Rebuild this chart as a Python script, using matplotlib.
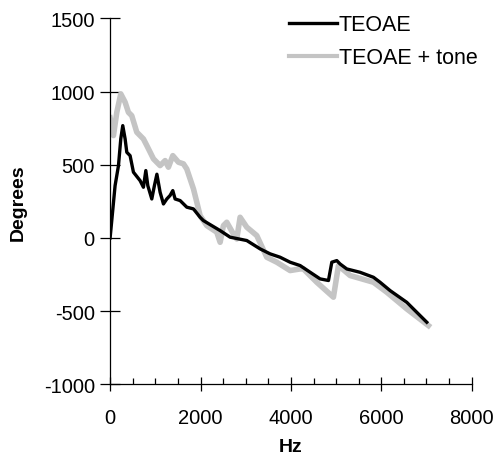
import numpy as np
import matplotlib.pyplot as plt
from matplotlib.ticker import MultipleLocator

plt.rcParams['font.family'] = ['Liberation Sans', 'DejaVu Sans']
plt.rcParams['axes.unicode_minus'] = False

# TEOAE (black)
hz_a = [0, 110, 185, 236, 280, 332, 369, 442, 516, 664, 737, 790, 834, 922, 980,
        1035, 1106, 1180, 1254, 1327, 1387, 1438, 1549, 1696, 1844, 1991, 2065,
        2434, 2655, 3024, 3319, 3540, 3761, 3982, 4204, 4646, 4831, 4905, 5015,
        5088, 5236, 5531, 5826, 5973, 6195, 6563, 7006]
deg_a = [0, 357, 494, 676, 767, 676, 585, 562, 449, 391, 346, 460, 357, 266, 357,
         435, 312, 232, 266, 290, 323, 266, 255, 210, 198, 141, 118,
         50, 5, -18, -75, -109, -132, -166, -189, -280, -291, -166, -155,
         -178, -212, -235, -269, -303, -360, -440, -576]

# TEOAE + tone (grey)
hz_b = [0, 74, 148, 236, 332, 405, 479, 590, 737, 812, 959, 1106, 1217, 1290,
        1387, 1512, 1622, 1696, 1770, 1844, 1918, 1991, 2139, 2360, 2434, 2507,
        2581, 2728, 2802, 2876, 3024, 3245, 3466, 3687, 3982, 4204, 4277, 4572,
        4941, 5052, 5310, 5826, 6121, 6563, 7043]
deg_b = [820, 699, 858, 984, 927, 858, 835, 722, 676, 631, 540, 494, 528, 483,
         562, 517, 506, 471, 403, 335, 244, 152, 84, 39, -30, 84,
         107, 27, -7, 141, 73, 16, -132, -166, -223, -212, -212, -303,
         -405, -189, -257, -303, -371, -485, -599]

fig = plt.figure(figsize=(4.96, 4.60), dpi=100)
ax = fig.add_axes([0.222, 0.1624, 0.729, 0.7956])

ax.plot(hz_a, deg_a, color='black', lw=2.4, label='TEOAE', zorder=3)
ax.plot(hz_b, deg_b, color='#c4c4c4', lw=4, label='TEOAE + tone', zorder=2)

ax.set_xlim(0, 8000)
ax.set_ylim(-1000, 1500)
ax.xaxis.set_major_locator(MultipleLocator(2000))
ax.xaxis.set_minor_locator(MultipleLocator(500))
ax.yaxis.set_major_locator(MultipleLocator(500))

for s in ['top', 'right']:
    ax.spines[s].set_visible(False)
for s in ['left', 'bottom']:
    ax.spines[s].set_linewidth(0.9)

ax.tick_params(axis='x', which='major', direction='inout', length=10, width=0.9,
               labelsize=14.5, pad=12)
ax.tick_params(axis='x', which='minor', direction='in', length=4, width=0.9)
ax.tick_params(axis='y', which='major', direction='inout', length=14, width=0.9,
               labelsize=14.5, pad=4)

ax.set_xlabel('Hz', fontsize=14, fontweight='bold', labelpad=8)
ax.set_ylabel('Degrees', fontsize=14, fontweight='bold', labelpad=12)

leg = ax.legend(loc='upper right', bbox_to_anchor=(1.07, 1.064), frameon=False,
                fontsize=15.5, handlelength=2.2, handletextpad=0.1, labelspacing=0.55)
leg.get_lines()[1].set_linewidth(3)

fig.savefig('out.png', dpi=100)
